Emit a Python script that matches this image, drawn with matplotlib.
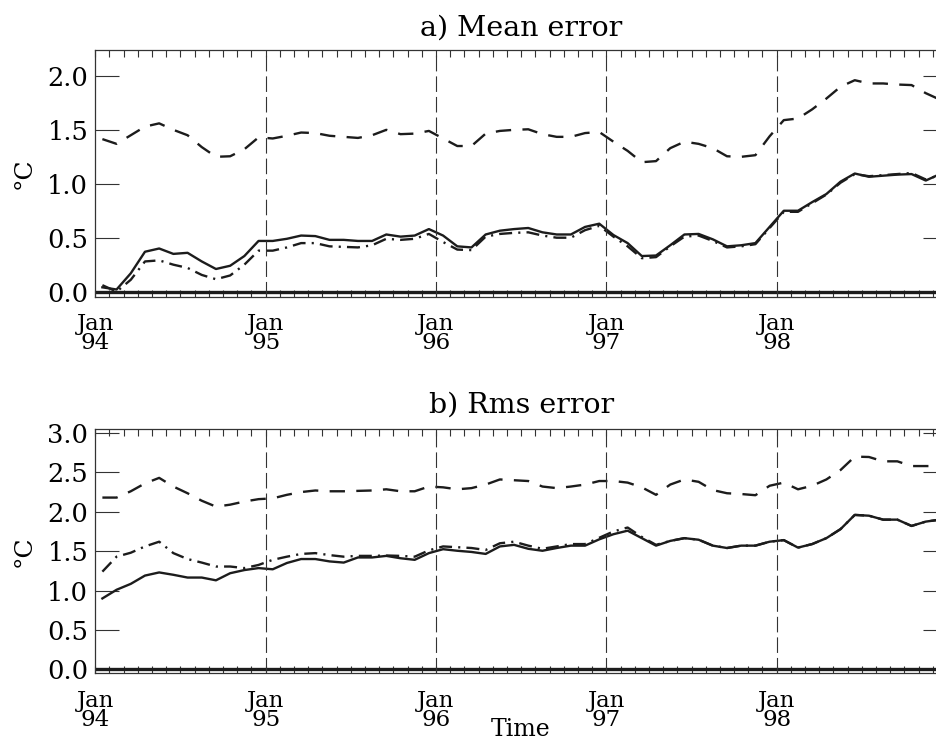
import numpy as np
import matplotlib
matplotlib.use("Agg")
import matplotlib.pyplot as plt
from matplotlib.ticker import FixedLocator

plt.rcParams['font.family'] = ['DejaVu Serif']

# monthly values, Jan 1994 .. Dec 1998
start_year = 1994
year_labels = ['Jan\n94', 'Jan\n95', 'Jan\n96', 'Jan\n97', 'Jan\n98']

mean_solid = [0.04, 0.02, 0.17, 0.37, 0.40, 0.35, 0.36, 0.28, 0.21, 0.24, 0.33, 0.47,
              0.47, 0.49, 0.52, 0.515, 0.48, 0.48, 0.47, 0.47, 0.53, 0.51, 0.52, 0.58,
              0.52, 0.42, 0.41, 0.53, 0.565, 0.58, 0.59, 0.55, 0.53, 0.53, 0.60, 0.63,
              0.525, 0.45, 0.33, 0.335, 0.43, 0.53, 0.535, 0.485, 0.42, 0.43, 0.45, 0.60,
              0.75, 0.75, 0.83, 0.905, 1.02, 1.095, 1.065, 1.075, 1.085, 1.09, 1.03, 1.09]
mean_dashdot = [0.06, 0.0, 0.11, 0.28, 0.29, 0.25, 0.22, 0.155, 0.115, 0.15, 0.25, 0.38,
                0.38, 0.41, 0.45, 0.45, 0.42, 0.415, 0.41, 0.43, 0.49, 0.48, 0.49, 0.535,
                0.46, 0.39, 0.385, 0.51, 0.535, 0.545, 0.55, 0.52, 0.50, 0.50, 0.57, 0.61,
                0.51, 0.42, 0.31, 0.32, 0.42, 0.51, 0.52, 0.47, 0.41, 0.42, 0.44, 0.59,
                0.74, 0.74, 0.82, 0.90, 1.01, 1.09, 1.07, 1.08, 1.09, 1.10, 1.04, 1.08]
mean_dashed = [1.414, 1.37, 1.45, 1.53, 1.56, 1.50, 1.45, 1.34, 1.25, 1.255, 1.32, 1.43,
               1.42, 1.445, 1.475, 1.47, 1.445, 1.435, 1.425, 1.45, 1.50, 1.46, 1.465, 1.49,
               1.42, 1.35, 1.35, 1.465, 1.49, 1.50, 1.505, 1.46, 1.435, 1.435, 1.47, 1.48,
               1.39, 1.305, 1.20, 1.21, 1.33, 1.39, 1.37, 1.33, 1.255, 1.25, 1.265, 1.44,
               1.59, 1.605, 1.69, 1.79, 1.90, 1.96, 1.93, 1.93, 1.92, 1.915, 1.84, 1.78]

rms_solid = [0.90, 1.01, 1.085, 1.19, 1.23, 1.20, 1.165, 1.165, 1.13, 1.22, 1.26, 1.285,
             1.27, 1.35, 1.40, 1.40, 1.37, 1.355, 1.42, 1.42, 1.44, 1.41, 1.39, 1.475,
             1.525, 1.505, 1.49, 1.465, 1.56, 1.58, 1.53, 1.505, 1.54, 1.57, 1.57, 1.65,
             1.715, 1.76, 1.665, 1.57, 1.63, 1.665, 1.645, 1.57, 1.54, 1.57, 1.57, 1.62,
             1.64, 1.545, 1.59, 1.665, 1.78, 1.96, 1.95, 1.90, 1.90, 1.82, 1.875, 1.90]
rms_dashdot = [1.24, 1.43, 1.48, 1.56, 1.62, 1.475, 1.40, 1.355, 1.305, 1.305, 1.285, 1.325,
               1.39, 1.43, 1.465, 1.475, 1.45, 1.43, 1.44, 1.44, 1.445, 1.44, 1.43, 1.51,
               1.56, 1.55, 1.54, 1.515, 1.60, 1.62, 1.57, 1.53, 1.56, 1.59, 1.59, 1.67,
               1.75, 1.80, 1.68, 1.58, 1.63, 1.665, 1.645, 1.57, 1.54, 1.57, 1.57, 1.62,
               1.64, 1.545, 1.59, 1.665, 1.78, 1.96, 1.95, 1.90, 1.90, 1.82, 1.875, 1.90]
rms_dashed = [2.18, 2.18, 2.26, 2.36, 2.43, 2.32, 2.235, 2.14, 2.065, 2.09, 2.13, 2.16,
              2.17, 2.215, 2.25, 2.27, 2.26, 2.26, 2.265, 2.27, 2.285, 2.26, 2.26, 2.32,
              2.31, 2.285, 2.30, 2.345, 2.41, 2.40, 2.39, 2.32, 2.30, 2.32, 2.345, 2.39,
              2.39, 2.37, 2.31, 2.215, 2.345, 2.41, 2.38, 2.275, 2.235, 2.225, 2.21, 2.33,
              2.37, 2.285, 2.33, 2.41, 2.53, 2.70, 2.695, 2.64, 2.64, 2.58, 2.58, 2.58]

t = start_year + (np.arange(len(mean_solid)) + 0.5) / 12.0

fig = plt.figure(figsize=(9.36, 7.42), dpi=100)
ax1 = fig.add_axes([0.1018, 0.6004, 0.91, 0.3322])
ax2 = fig.add_axes([0.1018, 0.0926, 0.91, 0.3292])

lc = '#1c1c1c'

def style(ax, solid, dashdot, dashed, ylim, yticks, title, tpad):
    ax.plot(t, solid, color=lc, lw=1.7, solid_joinstyle='round')
    ax.plot(t, dashdot, color=lc, lw=1.7, linestyle=(0, (5.5, 2.6, 0.9, 2.6)))
    ax.plot(t, dashed, color=lc, lw=1.7, linestyle=(0, (6.5, 4.8)))
    ax.axhline(0, color=lc, lw=2.4)
    for yr in range(start_year + 1, start_year + 6):
        ax.axvline(yr, color='#333333', lw=0.8, linestyle=(0, (14, 4.5)))
    ax.set_xlim(start_year, start_year + 5)
    ax.set_ylim(*ylim)
    ax.set_yticks(yticks)
    ax.set_yticklabels(['%.1f' % v for v in yticks])
    ax.set_xticks(range(start_year, start_year + 5))
    ax.set_xticklabels(year_labels)
    ax.xaxis.set_minor_locator(FixedLocator(start_year + np.arange(61) / 12.0))
    ax.tick_params(axis='x', which='both', direction='in', top=True, bottom=True,
                   length=5, width=0.8, color='#333333', labelsize=16.5, pad=12)
    ax.tick_params(axis='y', direction='in', left=True, right=True,
                   length=17, width=0.8, color='#333333', labelsize=18.5, pad=5)
    for lbl in ax.get_xticklabels():
        lbl.set_linespacing(0.8)
    for sp in ax.spines.values():
        sp.set_linewidth(0.9)
        sp.set_color('#333333')
    ax.set_ylabel('°C', fontsize=18, labelpad=8)
    ax.set_title(title, fontsize=20.5, pad=tpad)

style(ax1, mean_solid, mean_dashdot, mean_dashed, (-0.045, 2.24),
      [0.0, 0.5, 1.0, 1.5, 2.0], 'a) Mean error', 10)
style(ax2, rms_solid, rms_dashdot, rms_dashed, (-0.05, 3.05),
      [0.0, 0.5, 1.0, 1.5, 2.0, 2.5, 3.0], 'b) Rms error', 11.7)

fig.text(521 / 936.0, 1 - 729 / 742.0, 'Time', ha='center', va='center', fontsize=17)

fig.savefig('out.png', dpi=100)
